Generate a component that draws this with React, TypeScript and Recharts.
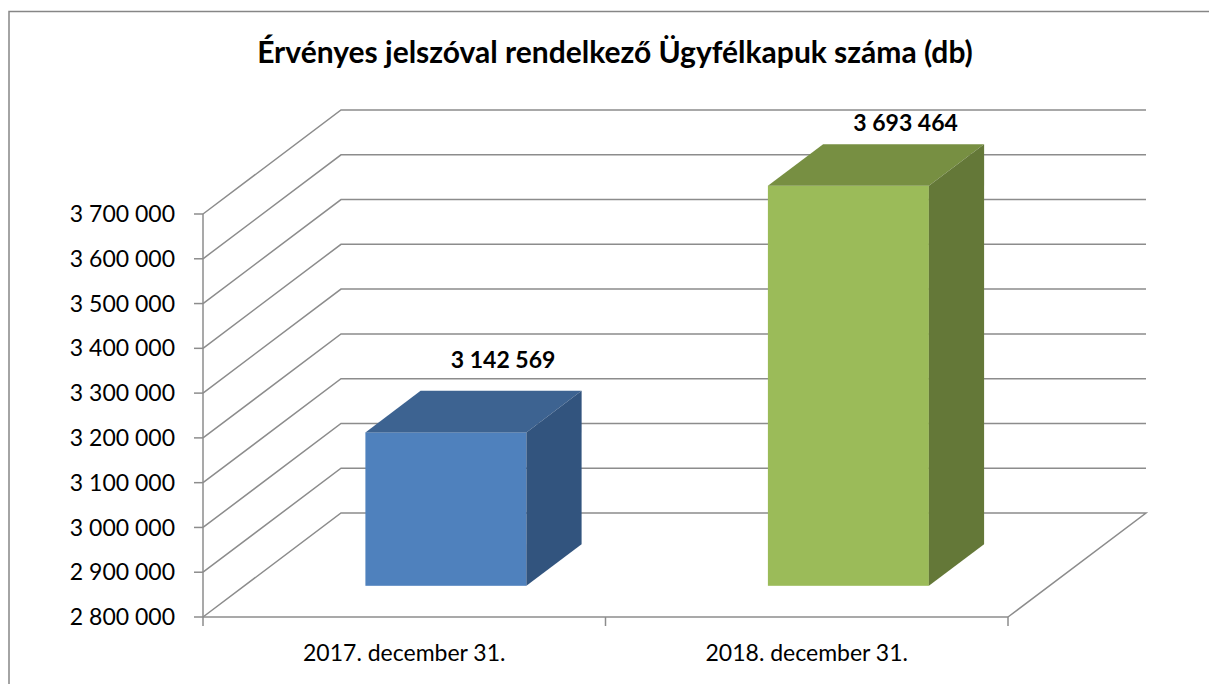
import React from 'react';
import { BarChart, Bar, XAxis, YAxis, CartesianGrid } from 'recharts';

const categories = ['2017. december 31.', '2018. december 31.'];
const counts = [3142569, 3693464];
const yTicks = [2800000, 2900000, 3000000, 3100000, 3200000, 3300000, 3400000, 3500000, 3600000, 3700000];
const title = 'Érvényes jelszóval rendelkező Ügyfélkapuk száma (db)';

const data = categories.map((name, i) => ({ name, count: counts[i] }));

const W = 1209;
const H = 684;
const PLOT_TOP = 214;
const PLOT_BOTTOM = 617;
const PLOT_LEFT = 203;
const PLOT_RIGHT = 1008;
// depth of the fake 3d floor / side wall
const DEPTH_X = 138;
const DEPTH_Y = -104;
const FONT = 'Lato, "Open Sans", sans-serif';
const GRID = '#8c8c8c';

const palette = [
  { front: '#4F81BD', top: '#3D6391', side: '#32547E' },
  { front: '#9BBB59', top: '#778F42', side: '#647838' },
];

const fmt = (v: number) => String(Math.round(v)).replace(/\B(?=(\d{3})+(?!\d))/g, ' ');

const Bar3D = (props: any) => {
  const { x, y, width, height, index, payload } = props;
  const c = palette[index % palette.length];
  // bar sits in the middle 40% of the depth
  const fx = x + DEPTH_X * 0.3;
  const fy = y + DEPTH_Y * 0.3;
  const fb = y + height + DEPTH_Y * 0.3;
  const bx = DEPTH_X * 0.4;
  const by = DEPTH_Y * 0.4;
  const labelY = Math.max(y + DEPTH_Y + 8, PLOT_TOP + DEPTH_Y + 21);
  return (
    <g>
      <rect x={fx} y={fy} width={width} height={fb - fy} fill={c.front} />
      <path
        d={`M${fx},${fy}L${fx + bx},${fy + by}L${fx + width + bx},${fy + by}L${fx + width},${fy}Z`}
        fill={c.top}
      />
      <path
        d={`M${fx + width},${fy}L${fx + width + bx},${fy + by}L${fx + width + bx},${fb + by}L${fx + width},${fb}Z`}
        fill={c.side}
      />
      <text
        x={fx + width / 2 + bx + 2}
        y={labelY}
        textAnchor="middle"
        fontFamily={FONT}
        fontWeight="bold"
        fontSize={23}
        fill="#000"
      >
        {fmt(payload.count)}
      </text>
    </g>
  );
};

const gridLine = (p: any) => {
  const { x1, y1, x2 } = p;
  const by = y1 + DEPTH_Y;
  let d = `M${x1},${y1}L${x1 + DEPTH_X},${by}L${x2 + DEPTH_X},${by}`;
  if (Math.abs(y1 - PLOT_BOTTOM) < 1) d += `L${x2},${y1}`;
  return <path key={p.key} d={d} fill="none" stroke={GRID} strokeWidth={1.5} />;
};

const tickMark = (p: any) => (
  <line key={p.key} x1={p.x1} x2={p.x1} y1={p.y2} y2={p.y2 + 9} stroke={GRID} strokeWidth={1.5} />
);

export default function App() {
  return (
    <div style={{ position: 'absolute', left: 0, top: 0, width: W, height: H, overflow: 'hidden', background: '#fff' }}>
      <BarChart
        width={W}
        height={H}
        data={data}
        barSize={161}
        margin={{ top: PLOT_TOP, right: W - PLOT_RIGHT, bottom: 0, left: 0 }}
      >
        <CartesianGrid
          horizontal={gridLine}
          vertical={tickMark}
          verticalCoordinatesGenerator={({ offset }: any) =>
            [...categories.map((_, i) => offset.left + (offset.width * i) / categories.length), offset.left + offset.width]
          }
        />
        <XAxis
          dataKey="name"
          height={H - PLOT_BOTTOM}
          tickLine={false}
          tickSize={9}
          tickMargin={19}
          axisLine={{ stroke: GRID, strokeWidth: 1.5 }}
          tick={{ fill: '#000', fontSize: 23, fontFamily: FONT }}
        />
        <YAxis
          type="number"
          domain={[2800000, 3700000]}
          ticks={yTicks}
          interval={0}
          width={PLOT_LEFT}
          tickFormatter={fmt}
          tickSize={9}
          tickMargin={19}
          axisLine={{ stroke: GRID, strokeWidth: 1.5 }}
          tickLine={{ stroke: GRID, strokeWidth: 1.5 }}
          tick={{ fill: '#000', fontSize: 23, fontFamily: FONT }}
        />
        <Bar dataKey="count" shape={Bar3D} isAnimationActive={false} />
      </BarChart>
      <svg width={W} height={H} style={{ position: 'absolute', left: 0, top: 0, pointerEvents: 'none' }}>
        <rect x={9} y={11.5} width={W} height={H} fill="none" stroke="#868686" strokeWidth={1.5} />
        <text x={615} y={63} textAnchor="middle" fontFamily={FONT} fontWeight="bold" fontSize={30} fill="#000">
          {title}
        </text>
      </svg>
    </div>
  );
}
